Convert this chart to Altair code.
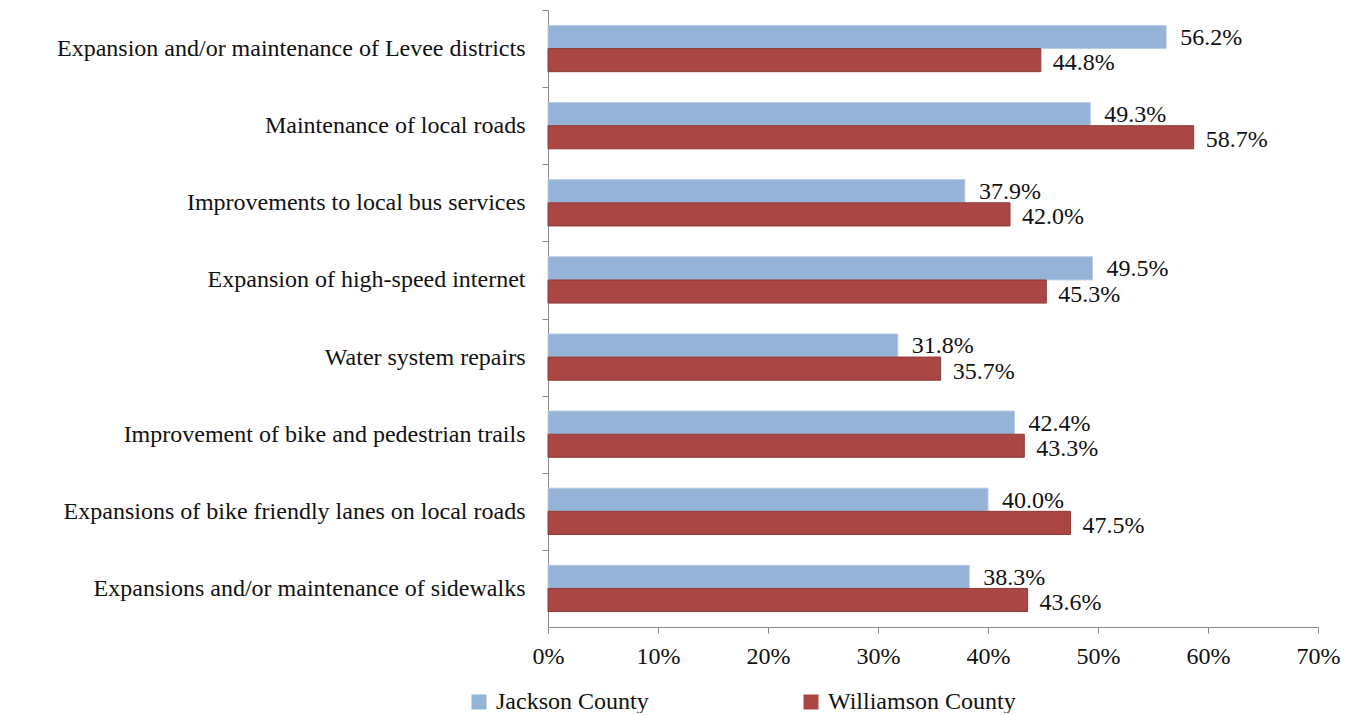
import altair as alt
import pandas as pd

categories = [
    "Expansion and/or maintenance of Levee districts",
    "Maintenance of local roads",
    "Improvements to local bus services",
    "Expansion of high-speed internet",
    "Water system repairs",
    "Improvement of bike and pedestrian trails",
    "Expansions of bike friendly lanes on local roads",
    "Expansions and/or maintenance of sidewalks",
]
series = ["Jackson County", "Williamson County"]
jackson = [56.2, 49.3, 37.9, 49.5, 31.8, 42.4, 40.0, 38.3]
williamson = [44.8, 58.7, 42.0, 45.3, 35.7, 43.3, 47.5, 43.6]
x_ticks = [0, 10, 20, 30, 40, 50, 60, 70]
colors = ["#95B3D7", "#AA4643"]
strokes = ["#B8CCE4", "#8E3A38"]

rows = []
for c, j, w in zip(categories, jackson, williamson):
    rows.append({"Category": c, "Series": series[0], "Value": j})
    rows.append({"Category": c, "Series": series[1], "Value": w})
df = pd.DataFrame(rows)

FONT = "Liberation Serif"
HEIGHT = 617
HALF_STEP = HEIGHT / len(categories) / 2

y_enc = alt.Y(
    "Category:N",
    sort=categories,
    scale=alt.Scale(paddingInner=0.4, paddingOuter=0.2),
    axis=alt.Axis(
        title=None,
        labelFont=FONT,
        labelFontSize=24,
        labelColor="#111111",
        labelLimit=700,
        labelPadding=17,
        tickSize=6,
        tickOffset=-HALF_STEP,
        labelOffset=HALF_STEP,
        tickColor="#8A8A8A",
        domainColor="#8A8A8A",
        grid=False,
    ),
)
yoff = alt.YOffset("Series:N", sort=series)
x_enc = alt.X(
    "Value:Q",
    scale=alt.Scale(domain=[0, 70], nice=False),
    axis=alt.Axis(
        title=None,
        values=x_ticks,
        labelExpr="datum.value + '%'",
        labelFlush=False,
        labelFont=FONT,
        labelFontSize=24,
        labelColor="#111111",
        labelPadding=11,
        tickSize=6,
        tickColor="#8A8A8A",
        domainColor="#8A8A8A",
        grid=False,
    ),
)

base = alt.Chart(df).transform_calculate(
    Label="format(datum.Value, '.1f') + '%'"
)

bars = base.mark_bar(strokeWidth=1).encode(
    y=y_enc,
    yOffset=yoff,
    x=x_enc,
    color=alt.Color(
        "Series:N",
        sort=series,
        scale=alt.Scale(domain=series, range=colors),
        legend=alt.Legend(
            title=None,
            orient="none",
            legendX=-81,
            legendY=680,
            direction="horizontal",
            symbolType="square",
            symbolSize=225,
            symbolStrokeWidth=0,
            labelFont=FONT,
            labelFontSize=24,
            labelColor="#111111",
            labelOffset=5,
            columnPadding=150,
            labelLimit=400,
        ),
    ),
    stroke=alt.Stroke(
        "Series:N", sort=series, scale=alt.Scale(domain=series, range=strokes), legend=None
    ),
)

y_plain = alt.Y("Category:N", sort=categories)
x_plain = alt.X("Value:Q")

text_j = base.transform_filter(alt.datum.Series == series[0]).mark_text(
    align="left", baseline="middle", dx=14, dy=1, font=FONT, fontSize=24, color="#111111"
).encode(y=y_plain, yOffset=yoff, x=x_plain, text="Label:N")

text_w = base.transform_filter(alt.datum.Series == series[1]).mark_text(
    align="left", baseline="middle", dx=12, dy=3, font=FONT, fontSize=24, color="#111111"
).encode(y=y_plain, yOffset=yoff, x=x_plain, text="Label:N")

chart = (
    alt.layer(bars, text_j, text_w)
    .resolve_scale(color="independent")
    .properties(
        width=770,
        height=HEIGHT,
        autosize=alt.AutoSizeParams(type="none"),
        padding={"left": 540, "top": 2, "right": 23, "bottom": 86},
        background="white",
    )
    .configure_view(strokeWidth=0, stroke="transparent")
)

chart.save("out.html", embed_options={"renderer": "svg", "actions": False})
